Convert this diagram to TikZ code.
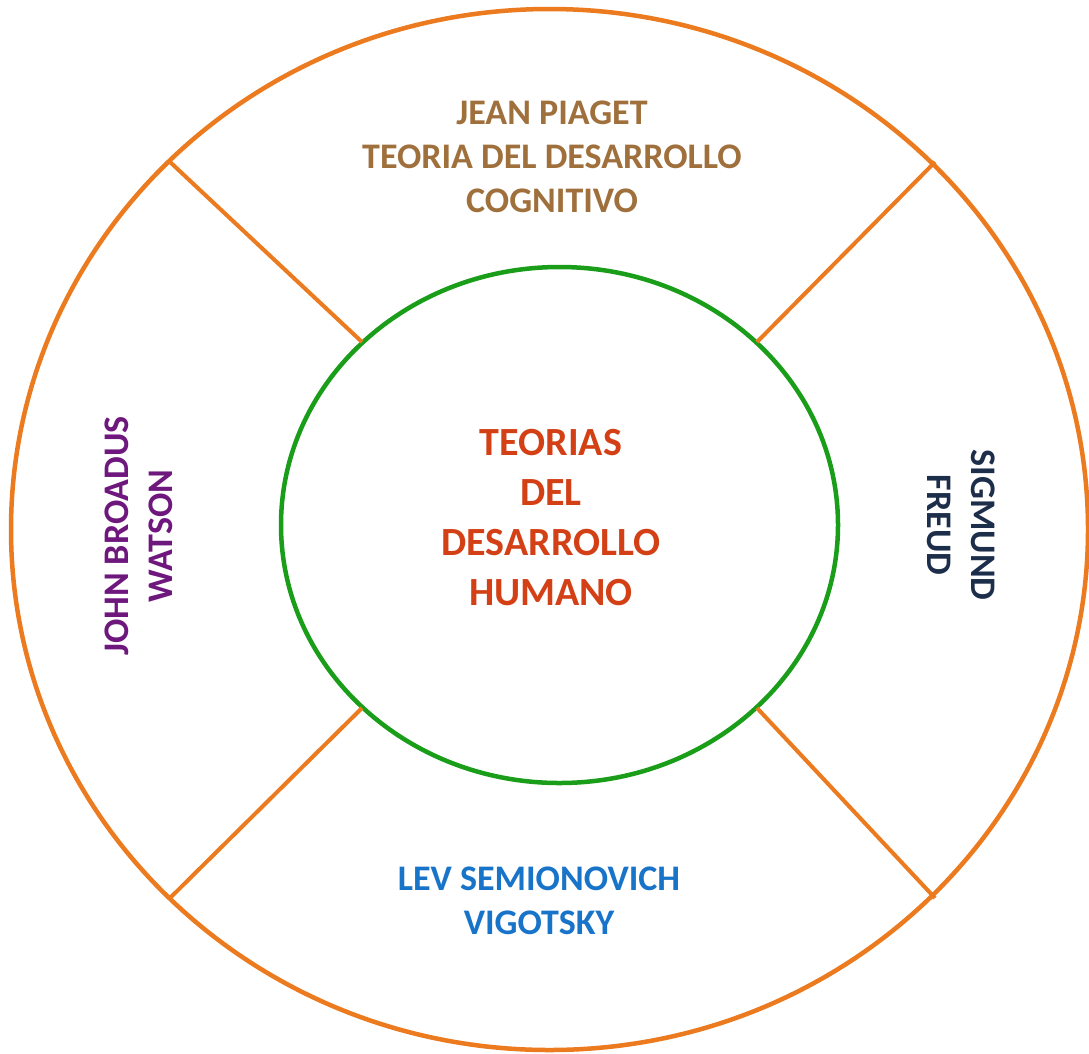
\documentclass[tikz,border=0pt]{standalone}
\usepackage{fontspec}
\setmainfont{Carlito}
\definecolor{ringorange}{RGB}{236,122,30}
\definecolor{ringgreen}{RGB}{26,158,26}
\definecolor{piagetbrown}{RGB}{160,112,60}
\definecolor{centerred}{RGB}{212,64,22}
\definecolor{watsonpurple}{RGB}{110,24,126}
\definecolor{freudnavy}{RGB}{28,46,74}
\definecolor{vigoblue}{RGB}{24,116,200}
\tikzset{
  outerring/.style={draw=ringorange,line width=4.5pt},
  innerring/.style={draw=ringgreen,line width=4.5pt},
  spoke/.style={draw=ringorange,line width=4pt},
  label/.style={align=center,font=\fontsize{36}{44}\selectfont\bfseries,inner sep=0pt},
  centerlabel/.style={align=center,font=\fontsize{40}{50}\selectfont\bfseries,inner sep=0pt}
}
\begin{document}
\begin{tikzpicture}[x=1pt,y=-1pt]
\useasboundingbox (0,0) rectangle (1089,1053);
\fill[white] (0,0) rectangle (1089,1053);
\draw[outerring] (549.5,529.5) ellipse [x radius=538.5, y radius=520.5];
\draw[innerring] (559.5,525) ellipse [x radius=278.5, y radius=258];
\coordinate (ulo) at (170,162);  \coordinate (uli) at (362,342);
\coordinate (uro) at (935,162);  \coordinate (uri) at (757,342);
\coordinate (llo) at (170,898);  \coordinate (lli) at (362,708);
\coordinate (lro) at (935,898);  \coordinate (lri) at (757,708);
\draw[spoke] (ulo) -- (uli);
\draw[spoke] (uro) -- (uri);
\draw[spoke] (llo) -- (lli);
\draw[spoke] (lro) -- (lri);
\node[label,text=piagetbrown] (piaget) at (552,157) {JEAN PIAGET\\TEORIA DEL DESARROLLO\\COGNITIVO};
\node[centerlabel,text=centerred] (centro) at (551,518) {TEORIAS\\DEL\\DESARROLLO\\HUMANO};
\node[label,text=watsonpurple,rotate=90] (watson) at (139,536) {JOHN BROADUS\\WATSON};
\node[label,text=freudnavy,rotate=-90] (freud) at (961,525) {SIGMUND\\FREUD};
\node[label,text=vigoblue] (vigotsky) at (539,901) {LEV SEMIONOVICH\\VIGOTSKY};
\end{tikzpicture}
\end{document}
